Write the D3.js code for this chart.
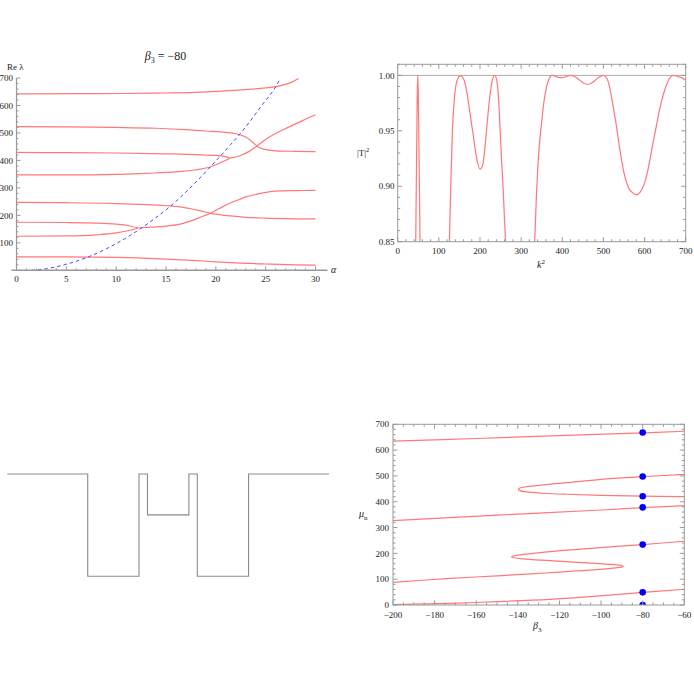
<!DOCTYPE html>
<html><head><meta charset="utf-8">
<script src="https://cdn.jsdelivr.net/npm/d3@7"></script>
<style>
body{margin:0;background:#fff;}
svg{display:block;}
text{font-family:"Liberation Serif","DejaVu Serif",serif;fill:#222;}
</style>
</head><body>
<svg id="c" width="694" height="695"></svg>
<script>
// ---------- Panel 1 data: Re λ vs α (β3 = −80) ----------
const alphaTicks = [0,5,10,15,20,25,30];
const reLambdaTicks = [100,200,300,400,500,600,700];
const branchTop   = [[0,642],[8,643],[14,645],[18,648],[21,653],[23,658],[25,664],[26.5,672],[27.5,683],[28.3,698]];
const branch523   = [[0,523],[5,522],[10,520],[14,517],[17,512],[19,507],[21,502],[22,497],[23,485],[23.7,466],[24.2,450],[24.8,441],[26,435],[28,433],[30,432]];
const branch430   = [[0,429],[5,428],[10,427],[15,424],[18,421],[20,418],[21,414],[21.4,408]];
const branch347   = [[0,347],[5,347],[10,349],[13,353],[16,358],[18,366],[19.5,377],[20.5,392],[21.4,408]];
const branchUp    = [[21.4,408],[22.4,417],[23.3,432],[24.1,452],[25.4,486],[27.4,523],[28.7,545],[30,566]];
const branch248   = [[0,247],[5,246],[10,243],[13,239],[15,235],[16.4,231],[17.5,224],[18.4,217],[19.4,208],[20.5,202],[21.5,198],[23,193],[25,190],[30,187]];
const branch175   = [[0,175],[5,174],[8,172],[10,168],[11.2,163],[12.2,154]];
const branch125   = [[0,124],[5,125],[8,129],[10,136],[11.2,144],[12.2,154]];
const branchMid   = [[12.2,154],[13.5,157],[15,161],[16.4,168],[17.5,180],[18.5,194],[19.4,207],[20.4,226],[21.4,244],[22.3,257],[23.1,268],[24,276],[24.75,282],[26.4,289],[28,290],[30,291]];
const branch50    = [[0,49],[5,49],[10,47],[15,41],[18,35],[20,31],[22,27],[25,23],[28,20],[30,19]];
const blueDashed  = [[1.5,0],[3,6],[5,22],[7,46],[9,78],[11,118],[12.5,153],[14,192],[15.5,235],[17,285],[18.5,340],[20,398],[21.5,458],[23,522],[24.5,595],[26,668],[26.5,700]];

// ---------- Panel 2 data: |T|^2 vs k^2 ----------
const k2Ticks = [0,100,200,300,400,500,600,700];
const tTicks = [0.85,0.90,0.95,1.00];
const tSpike = [[38,0.6],[43.8,0.85],[46,0.93],[47.6,0.985],[48.7,1.0],[49.9,0.985],[51.8,0.93],[54.3,0.85],[59,0.6]];
const tBand2 = [[118,0.78],[125.6,0.85],[129,0.9],[133,0.95],[138,0.98],[144,0.995],[152,0.9995],[160,0.997],[168,0.985],[176,0.965],[184,0.945],[192,0.925],[200,0.9155],[206,0.918],[212,0.935],[217,0.955],[223,0.978],[229,0.994],[236,1.0],[241,0.995],[245,0.98],[249,0.95],[253,0.92],[256,0.9],[259,0.875],[262,0.85],[266,0.8]];
const tBand3 = [[328,0.78],[333,0.85],[337,0.89],[341,0.92],[345,0.94],[349,0.955],[355,0.975],[362,0.99],[368,0.997],[375,1.0],[388,0.9985],[400,0.998],[410,0.999],[420,1.0],[430,0.999],[445,0.995],[455,0.9925],[464,0.992],[475,0.994],[488,0.998],[500,1.0],[510,0.996],[520,0.98],[530,0.958],[540,0.933],[550,0.912],[562,0.898],[572,0.894],[580,0.8925],[590,0.895],[600,0.903],[610,0.918],[620,0.938],[630,0.957],[640,0.975],[650,0.988],[660,0.997],[670,1.0],[680,0.999],[690,0.998],[700,0.9955]];

// ---------- Panel 3 data: potential profile ----------
const wellEdges = [-8,-4,-1.45,-1.03,1.03,1.45,4,8];
const wellDepths = [0,-200,0,-80,0,-200,0];

// ---------- Panel 4 data: μ vs β3 ----------
const beta3Ticks = [-200,-180,-160,-140,-120,-100,-80,-60];
const muTicks = [0,100,200,300,400,500,600,700];
const muTop   = [[-200,635],[-160,645],[-120,656],[-80,667],[-60,673]];
const muFold  = [[-60,506],[-80,497],[-100,487],[-116.5,474],[-128,465],[-135.8,458],[-139,453],[-139.8,448],[-139,443],[-136,438],[-128,433],[-116.5,429],[-100,425],[-80,422],[-60,420]];
const muMid   = [[-200,327],[-150,348],[-100,368],[-80,377],[-60,385]];
const muS     = [[-200,88],[-172.6,103],[-150,113],[-124.6,125],[-100.5,138],[-92.9,144],[-90.2,147],[-89.3,150],[-90.2,153],[-92.9,156],[-100.5,160],[-124.6,172],[-137.4,179],[-142.4,184],[-143,187],[-142.4,190],[-137.4,196],[-124.6,207],[-100.5,222],[-80,234],[-60,247]];
const muLow   = [[-200,2],[-172.6,6.5],[-150,13],[-124.6,22],[-100.5,35],[-80,49],[-60,61]];
const dotBeta = -80;
const dotMu = [0,49,234,378,421,498,668];

// ---------- drawing ----------
const svg = d3.select("#c");
const RED = "#f77", AX = "#999";

// ===== Panel 1 =====
const x1 = d3.scaleLinear().domain([0,30]).range([16.5,315.5]);
const y1 = d3.scaleLinear().domain([0,700]).range([270.3,78]);
const p1 = svg.append("g");
const line1 = d3.line().x(d=>x1(d[0])).y(d=>y1(d[1])).curve(d3.curveMonotoneX);
[branchTop,branch523,branch430,branch347,branchUp,branch248,branch175,branch125,branchMid,branch50].forEach(s=>{
  p1.append("path").attr("d",line1(s)).attr("fill","none").attr("stroke",RED).attr("stroke-width",1.2);
});
p1.append("path").attr("d",line1(blueDashed)).attr("fill","none").attr("stroke","#4b4bf5").attr("stroke-width",1).attr("stroke-dasharray","3.5,3");
// axes
p1.append("line").attr("x1",x1(-0.5)).attr("x2",x1(31.2)).attr("y1",y1(0)).attr("y2",y1(0)).attr("stroke",AX).attr("stroke-width",1.5);
p1.append("line").attr("x1",x1(0)).attr("x2",x1(0)).attr("y1",y1(0)).attr("y2",y1(700)).attr("stroke",AX).attr("stroke-width",1.2);
d3.range(0,30.01,1).forEach(v=>{
  const maj = alphaTicks.includes(v);
  p1.append("line").attr("x1",x1(v)).attr("x2",x1(v)).attr("y1",y1(0)).attr("y2",y1(0)-(maj?4:2)).attr("stroke",AX);
});
d3.range(0,700.1,20).forEach(v=>{
  const maj = v%100===0;
  p1.append("line").attr("x1",x1(0)).attr("x2",x1(0)+(maj?4:2)).attr("y1",y1(v)).attr("y2",y1(v)).attr("stroke",AX);
});
alphaTicks.forEach(v=>p1.append("text").attr("x",x1(v)).attr("y",282).attr("text-anchor","middle").attr("font-size",9).text(v));
reLambdaTicks.forEach(v=>p1.append("text").attr("x",13).attr("y",y1(v)).attr("dy","0.35em").attr("text-anchor","end").attr("font-size",9).text(v));
p1.append("text").attr("x",7).attr("y",70).attr("font-size",9).text("Re λ");
p1.append("text").attr("x",331).attr("y",273).attr("font-size",10).attr("font-style","italic").text("α");
const ttl = p1.append("text").attr("x",165.5).attr("y",59.5).attr("text-anchor","middle").attr("font-size",12);
ttl.append("tspan").attr("font-style","italic").text("β");
ttl.append("tspan").attr("font-size",8).attr("dy",3).text("3");
ttl.append("tspan").attr("dy",-3).text(" = −80");

// frame helper
function frame(g, x, y, xMaj, xMinStep, yMaj, yMinStep, fx, fy, xlabY, ylabX) {
  const [xa,xb] = x.range(), [ya,yb] = y.range();
  g.append("rect").attr("x",xa).attr("y",yb).attr("width",xb-xa).attr("height",ya-yb).attr("fill","none").attr("stroke",AX).attr("stroke-width",1);
  const [dx0,dx1] = x.domain(), [dy0,dy1] = y.domain();
  const xs = d3.range(Math.ceil(dx0/xMinStep-1e-9)*xMinStep, dx1+1e-9, xMinStep);
  xs.forEach(v=>{
    const maj = xMaj.some(m=>Math.abs(m-v)<1e-9);
    const L = maj?4.5:2.5;
    g.append("line").attr("x1",x(v)).attr("x2",x(v)).attr("y1",ya).attr("y2",ya-L).attr("stroke",AX);
    g.append("line").attr("x1",x(v)).attr("x2",x(v)).attr("y1",yb).attr("y2",yb+L).attr("stroke",AX);
  });
  const ys = d3.range(Math.ceil(dy0/yMinStep-1e-9)*yMinStep, dy1+1e-9, yMinStep);
  ys.forEach(v=>{
    const maj = yMaj.some(m=>Math.abs(m-v)<1e-9);
    const L = maj?4.5:2.5;
    g.append("line").attr("x1",xa).attr("x2",xa+L).attr("y1",y(v)).attr("y2",y(v)).attr("stroke",AX);
    g.append("line").attr("x1",xb).attr("x2",xb-L).attr("y1",y(v)).attr("y2",y(v)).attr("stroke",AX);
  });
  xMaj.forEach(v=>g.append("text").attr("x",x(v)).attr("y",xlabY).attr("text-anchor","middle").attr("font-size",9).text(fx(v)));
  yMaj.forEach(v=>g.append("text").attr("x",ylabX).attr("y",y(v)).attr("dy","0.35em").attr("text-anchor","end").attr("font-size",9).text(fy(v)));
}

// ===== Panel 2 =====
const x2 = d3.scaleLinear().domain([0,700]).range([397.7,685.7]);
const y2 = d3.scaleLinear().domain([0.85,1.01]).range([241.7,64.3]);
const p2 = svg.append("g");
p2.append("clipPath").attr("id","clip2").append("rect").attr("x",397.7).attr("y",64.3).attr("width",288).attr("height",177.4);
p2.append("line").attr("x1",x2(0)).attr("x2",x2(700)).attr("y1",y2(1)).attr("y2",y2(1)).attr("stroke","#aaa").attr("stroke-width",1);
const line2 = d3.line().x(d=>x2(d[0])).y(d=>y2(d[1])).curve(d3.curveMonotoneX);
[tSpike,tBand2,tBand3].forEach(s=>{
  p2.append("path").attr("d",line2(s)).attr("clip-path","url(#clip2)").attr("fill","none").attr("stroke",RED).attr("stroke-width",1.2);
});
frame(p2,x2,y2,k2Ticks,20,tTicks,0.01,d3.format("d"),d3.format(".2f"),253.5,394.5);
const tl = p2.append("text").attr("x",357).attr("y",156).attr("font-size",9);
tl.append("tspan").text("|T|");
tl.append("tspan").attr("font-size",6.5).attr("dy",-4).text("2");
const kl = p2.append("text").attr("x",537).attr("y",268).attr("font-size",10);
kl.append("tspan").attr("font-style","italic").text("k");
kl.append("tspan").attr("font-size",7).attr("dy",-4).text("2");

// ===== Panel 3 =====
const x3 = d3.scaleLinear().domain([-8,8]).range([7.3,329]);
const y3 = d3.scaleLinear().domain([-200,0]).range([576.3,474]);
const potPts = [];
wellDepths.forEach((v,i)=>{ potPts.push([wellEdges[i],v]); potPts.push([wellEdges[i+1],v]); });
svg.append("path").attr("d",d3.line().x(d=>x3(d[0])).y(d=>y3(d[1]))(potPts)).attr("fill","none").attr("stroke","#8a8a8a").attr("stroke-width",1.1);

// ===== Panel 4 =====
const x4 = d3.scaleLinear().domain([-200,-60]).range([393,684.3]);
const y4 = d3.scaleLinear().domain([0,700]).range([605,424.3]);
const p4 = svg.append("g");
p4.append("clipPath").attr("id","clip4").append("rect").attr("x",393).attr("y",424.3).attr("width",291.3).attr("height",180.7);
const line4 = d3.line().x(d=>x4(d[0])).y(d=>y4(d[1])).curve(d3.curveCatmullRom.alpha(0.5));
[muTop,muFold,muMid,muS,muLow].forEach(s=>{
  p4.append("path").attr("d",line4(s)).attr("clip-path","url(#clip4)").attr("fill","none").attr("stroke",RED).attr("stroke-width",1.2);
});
dotMu.forEach(m=>p4.append("circle").attr("cx",x4(dotBeta)).attr("cy",y4(m)).attr("r",3.3).attr("fill","#0000ff").attr("clip-path","url(#clip4)"));
frame(p4,x4,y4,beta3Ticks,5,muTicks,20,d3.format("d"),d3.format("d"),617.5,389);
const bl = p4.append("text").attr("x",533).attr("y",629).attr("font-size",10);
bl.append("tspan").attr("font-style","italic").text("β");
bl.append("tspan").attr("font-size",7).attr("dy",2.5).text("3");
const ml = p4.append("text").attr("x",359).attr("y",517).attr("font-size",10);
ml.append("tspan").attr("font-style","italic").text("μ");
ml.append("tspan").attr("font-size",7).attr("dy",2.5).text("n");
</script>
</body></html>
